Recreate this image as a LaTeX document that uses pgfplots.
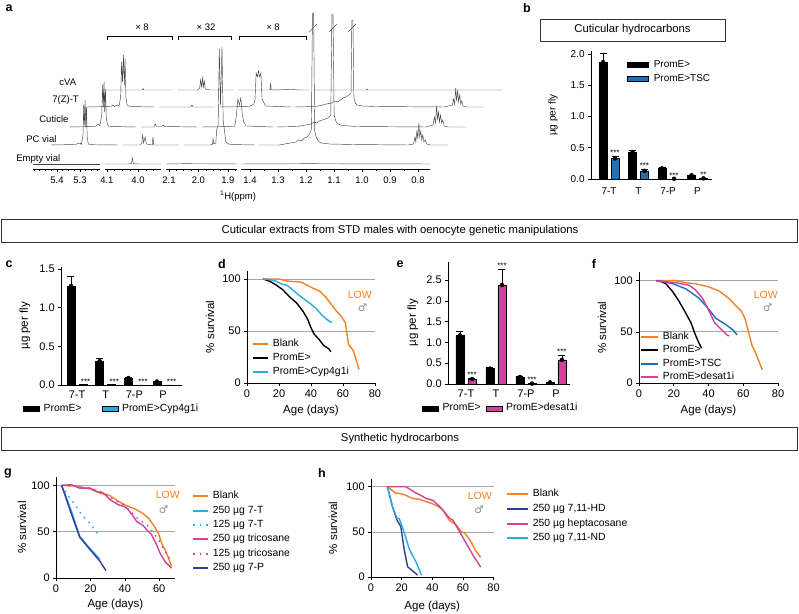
\documentclass[border=0pt]{standalone}
\usepackage{fontspec}
\setmainfont{Liberation Sans}
\newfontfamily\dejavu{DejaVu Sans}
\usepackage{pgfplots}
\usepackage{pgfplotstable}
\pgfplotsset{compat=1.18}
\definecolor{cOr}{RGB}{242,130,34}
\definecolor{cCy}{RGB}{41,171,226}
\definecolor{cBl}{RGB}{30,112,184}
\definecolor{cPk}{RGB}{206,68,154}
\definecolor{cDb}{RGB}{48,64,152}
\definecolor{cGr}{RGB}{165,165,165}
\definecolor{cSp}{RGB}{70,70,70}
\newcommand\fA{\fontsize{9.5}{11}\selectfont}
\newcommand\fT{\fontsize{11}{12}\selectfont}
\newcommand\fTb{\fontsize{10}{11}\selectfont}
\newcommand\fX{\fontsize{11.5}{13}\selectfont}
\newcommand\fL{\fontsize{10.4}{12}\selectfont}
\newcommand\fLb{\fontsize{10}{12}\selectfont}
\newcommand\fS{\fontsize{8}{9}\selectfont}
\newcommand\fP{\fontsize{12.5}{14}\selectfont\bfseries}
\newcommand\fH{\fontsize{11.3}{13}\selectfont}
\newcommand\fLow{\fontsize{10.5}{12}\selectfont}
\newcommand{\spec}[4]{\addplot[spec] table[row sep=\\, x expr=\thisrow{p}-#2/#1, y expr=\thisrow{h}+#3] {p h\\ #4};}
\tikzset{star/.style={font=\fS, inner sep=0.5pt, anchor=south}}
% bar data: x = category, y = mean, e = error
\pgfplotstableread[row sep=\\]{x y e\\ 0 1.87 0.14\\ 1 0.43 0.03\\ 2 0.17 0.02\\ 3 0.06 0.006\\}\bA
\pgfplotstableread[row sep=\\]{x y e\\ 0 0.33 0.04\\ 1 0.13 0.03\\ 2 0.003 0\\ 3 0.01 0.005\\}\bB
\pgfplotstableread[row sep=\\]{x y e\\ 0 1.28 0.12\\ 1 0.31 0.04\\ 2 0.09 0.01\\ 3 0.045 0.006\\}\cA
\pgfplotstableread[row sep=\\]{x y e\\ 0 0.005 0\\ 1 0.005 0\\ 2 0.003 0\\ 3 0.003 0\\}\cB
\pgfplotstableread[row sep=\\]{x y e\\ 0 1.17 0.10\\ 1 0.37 0.02\\ 2 0.17 0.02\\ 3 0.04 0.005\\}\eA
\pgfplotstableread[row sep=\\]{x y e\\ 0 0.12 0.01\\ 1 2.38 0.37\\ 2 0.01 0.005\\ 3 0.58 0.12\\}\eB
\pgfplotsset{
 base/.style={scale only axis, anchor=south west, clip=false,
   axis lines=left, axis line style={-, line width=0.6pt},
   tick align=outside, major tick length=3pt,
   tick style={black, line width=0.6pt},
   tick label style={font=\fT},
   label style={font=\fX},
   /pgf/number format/assume math mode=true,
   legend cell align=left,
   legend style={draw=none, fill=none, inner sep=0pt, font=\fL,
      nodes={inner sep=0pt, text height=7.5pt, text depth=2.5pt}},
 },
 bars/.style={base, ymin=0,
   xtick={0,1,2,3}, xticklabels={7-T,T,7-P,P}, xtick style={draw=none},
   yticklabel style={/pgf/number format/.cd, fixed, fixed zerofill, precision=1},
   ylabel={µg per fly}, ylabel style={anchor=center},
 },
 blegB/.style={legend image code/.code={\draw[##1, line width=0.5pt] (0pt,-2.5pt) rectangle (21pt,2.5pt); \path (26pt,0pt);}},
 blegC/.style={legend image code/.code={\draw[##1, line width=0.5pt] (0pt,-2.5pt) rectangle (16pt,2.5pt); \path (20pt,0pt);}},
 barL/.style={ybar, bar width=8pt, bar shift=-6pt, draw=black, line width=0.5pt},
 barR/.style={ybar, bar width=8pt, bar shift=6pt, draw=black, line width=0.5pt},
 ebar/.style={only marks, mark=none, forget plot,
   /pgfplots/error bars/y dir=plus, /pgfplots/error bars/y explicit,
   /pgfplots/error bars/error bar style={black, line width=0.6pt, solid},
   /pgfplots/error bars/error mark options={black, rotate=90, mark size=3.5pt, line width=0.6pt}},
 surv/.style={base, xmin=0, ymin=0, ytick={0,50,100},
   ymajorgrids, major grid style={cGr, line width=0.7pt},
   xlabel={Age (days)}, ylabel={\% survival}, ylabel style={anchor=center}, xlabel style={anchor=center},
   every axis plot/.append style={line width=1.4pt},
 },
 lg/.style 2 args={legend image code/.code={\draw[#1, line width=1.9pt] (0pt,0pt) -- (#2,0pt); \path ([xshift=4pt]#2,0pt);}},
 spec/.style={cSp, line width=0.45pt},
 nmr/.style={scale only axis, anchor=south west, clip=false, height=200pt, ymin=0, ymax=200,
   x dir=reverse, axis x line=bottom, axis y line=none, ytick=\empty,
   axis line style={-, line width=0.6pt},
   tick align=outside, major tick length=3pt, minor tick length=2pt,
   tick style={black, line width=0.5pt},
   xticklabel style={font=\fA, yshift=-2pt, /pgf/number format/.cd, fixed, fixed zerofill, precision=1},
   /pgf/number format/assume math mode=true},
}
\begin{document}
\fA
\begin{tikzpicture}
\useasboundingbox (0pt,0pt) rectangle (799pt,613pt);
% ================= panel a =================
\node[font=\fP] at (9pt,605pt) {a};
\begin{axis}[nmr, at={(33pt,444pt)}, width=67pt, xmin=5.213, xmax=5.504, xtick={5.3,5.4},
  minor xtick={5.225,5.25,5.275,5.325,5.35,5.375,5.425,5.45,5.475,5.5}]
\spec{230}{0}{5}{5.504 0\\ 5.213 0\\}
\spec{230}{18}{24}{5.504 0\\ 5.40 0.5\\ 5.378 2\\ 5.372 0.5\\ 5.365 10\\ 5.362 40\\ 5.359 20\\ 5.356 45\\ 5.353 18\\ 5.350 38\\ 5.347 8\\ 5.342 1\\ 5.33 0.3\\ 5.213 0\\}
\spec{230}{36}{42}{5.504 0\\ 5.39 0.5\\ 5.376 3\\ 5.370 1\\ 5.362 12\\ 5.358 42\\ 5.355 20\\ 5.352 45\\ 5.349 15\\ 5.346 38\\ 5.342 8\\ 5.336 2\\ 5.33 0.5\\ 5.213 0\\}
\spec{230}{54}{62}{5.504 0\\ 5.40 0.5\\ 5.391 2\\ 5.385 0.5\\ 5.372 2\\ 5.365 1\\ 5.358 10\\ 5.354 45\\ 5.350 25\\ 5.346 52\\ 5.342 22\\ 5.339 48\\ 5.335 9\\ 5.33 2\\ 5.32 0.5\\ 5.213 0\\}
\spec{230}{72}{79}{5.504 0\\ 5.342 0\\ 5.339 1.5\\ 5.336 0\\ 5.213 0\\}
\end{axis}
\begin{axis}[nmr, at={(105pt,444pt)}, width=56pt, xmin=3.926, xmax=4.106, xtick={4.0,4.1},
  minor xtick={3.95,3.975,4.025,4.05,4.075}]
\spec{310}{0}{5}{4.106 0\\ 4.03 0\\ 4.021 0.5\\ 4.018 6\\ 4.015 0.5\\ 4.0 0\\ 3.926 0\\}
\spec{310}{18}{24}{4.106 0\\ 4.05 0\\ 4.046 2\\ 4.043 10\\ 4.040 2\\ 4.035 8\\ 4.031 1\\ 4.012 0\\ 4.010 8\\ 4.007 0\\ 3.926 0\\}
\spec{310}{36}{42}{4.106 0\\ 4.065 0\\ 4.061 3\\ 4.057 0.5\\ 4.04 0.5\\ 4.035 2\\ 4.03 0.5\\ 3.926 0\\}
\spec{310}{54}{62}{4.106 0\\ 4.005 0\\ 4.001 2\\ 3.997 0\\ 3.926 0\\}
\spec{310}{72}{79}{4.106 0\\ 4.04 0\\ 4.034 2\\ 4.031 10\\ 4.028 3\\ 4.025 12\\ 4.022 3\\ 4.019 9\\ 4.016 1\\ 4.00 0\\ 3.926 0\\}
\end{axis}
\begin{axis}[nmr, at={(166pt,444pt)}, width=71pt, xmin=1.869, xmax=2.110, xtick={1.9,2.0,2.1},
  minor xtick={1.875,1.925,1.95,1.975,2.025,2.05,2.075}]
\spec{295}{0}{5}{2.110 0\\ 2.05 0.3\\ 1.95 0.2\\ 1.869 0\\}
\spec{295}{18}{24}{2.110 0\\ 2.02 0\\ 2.013 1\\ 2.011 7\\ 2.009 1\\ 2.002 2\\ 1.999 15\\ 1.994 20\\ 1.990 96\\ 1.986 40\\ 1.981 98\\ 1.977 25\\ 1.972 13\\ 1.968 3\\ 1.955 0.5\\ 1.869 0\\}
\spec{295}{36}{42}{2.110 0\\ 2.00 0.5\\ 1.998 2\\ 1.993 12\\ 1.988 28\\ 1.983 22\\ 1.978 29\\ 1.973 12\\ 1.967 4\\ 1.96 1\\ 1.869 0\\}
\spec{295}{54}{62}{2.110 0\\ 2.01 0.5\\ 1.995 3\\ 1.991 7\\ 1.987 34\\ 1.983 30\\ 1.979 36\\ 1.975 30\\ 1.971 34\\ 1.967 8\\ 1.962 5\\ 1.955 1\\ 1.869 0\\}
\spec{295}{72}{79}{2.110 0\\ 2.001 0\\ 1.999 7\\ 1.997 0\\ 1.93 0.5\\ 1.90 0\\ 1.869 0\\}
\end{axis}
\begin{axis}[nmr, at={(241pt,444pt)}, width=189pt, xmin=0.757, xmax=1.432,
  xtick={0.8,0.9,1.0,1.1,1.2,1.3,1.4}, minor xtick={0.85,0.95,1.05,1.15,1.25,1.35}]
\spec{280}{0}{5}{1.432 0\\ 1.2 0.3\\ 0.757 0\\}
\spec{280}{18}{24}{1.432 0\\ 1.36 0\\ 1.33 1.5\\ 1.30 3\\ 1.29 5\\ 1.28 4\\ 1.27 7\\ 1.26 8\\ 1.25 12\\ 1.245 16\\ 1.241 132\\ 1.237 132\\ 1.233 14\\ 1.228 8\\ 1.22 4\\ 1.21 2\\ 1.18 1\\ 1.10 0.5\\ 0.90 0\\ 0.88 1\\ 0.875 8\\ 0.872 3\\ 0.868 15\\ 0.865 6\\ 0.861 22\\ 0.858 8\\ 0.854 14\\ 0.851 5\\ 0.847 10\\ 0.843 3\\ 0.838 5\\ 0.833 1\\ 0.82 0\\ 0.757 0\\}
\spec{280}{18}{24}{1.254 113\\ 1.225 121\\}
\spec{280}{36}{42}{1.432 0\\ 1.36 0.5\\ 1.33 2\\ 1.31 3\\ 1.30 5\\ 1.29 4\\ 1.28 6\\ 1.27 7\\ 1.26 8\\ 1.25 9\\ 1.240 12\\ 1.236 113\\ 1.232 113\\ 1.228 12\\ 1.222 6\\ 1.215 3\\ 1.20 1.5\\ 1.15 0.5\\ 0.90 0\\ 0.875 2\\ 0.870 10\\ 0.866 4\\ 0.862 21\\ 0.859 8\\ 0.855 15\\ 0.852 5\\ 0.848 12\\ 0.844 4\\ 0.840 7\\ 0.835 1\\ 0.82 0\\ 0.757 0\\}
\spec{280}{36}{42}{1.246 95\\ 1.218 103\\}
\spec{280}{54}{62}{1.432 0\\ 1.36 0.5\\ 1.34 1.5\\ 1.32 3\\ 1.30 4\\ 1.29 6\\ 1.28 5\\ 1.27 7\\ 1.26 9\\ 1.25 10\\ 1.24 12\\ 1.232 14\\ 1.229 87\\ 1.225 87\\ 1.222 10\\ 1.217 4\\ 1.21 2\\ 1.19 1\\ 1.15 0.5\\ 0.90 0\\ 0.870 2\\ 0.866 8\\ 0.862 3\\ 0.858 19\\ 0.855 6\\ 0.851 17\\ 0.848 5\\ 0.844 12\\ 0.840 3\\ 0.836 6\\ 0.832 1\\ 0.82 0\\ 0.757 0\\}
\spec{280}{54}{62}{1.243 75\\ 1.214 83\\}
\spec{280}{72}{79}{1.432 0\\ 1.242 0\\ 1.239 1\\ 1.236 0\\ 0.757 0\\}
\end{axis}
\node at (238pt,417pt) {\textsuperscript{1}H(ppm)};
\node[anchor=west] at (56pt,531pt) {cVA};
\node[anchor=west] at (49pt,513pt) {7(Z)-T};
\node[anchor=west] at (36pt,494pt) {Cuticle};
\node[anchor=west] at (23pt,474pt) {PC vial};
\node[anchor=west] at (13pt,454pt) {Empty vial};
\draw[line width=0.6pt] (107pt,573pt) -- (107pt,576.5pt) -- (172pt,576.5pt) -- (172pt,573pt);
\draw[line width=0.6pt] (178pt,573pt) -- (178pt,576.5pt) -- (231pt,576.5pt) -- (231pt,573pt);
\draw[line width=0.6pt] (239pt,573pt) -- (239pt,576.5pt) -- (306pt,576.5pt) -- (306pt,573pt);
\node at (142pt,586pt) {× 8};
\node at (206pt,586pt) {× 32};
\node at (273pt,586pt) {× 8};
% ================= panel b =================
\node[font=\fP] at (527pt,605pt) {b};
\draw[line width=0.7pt, black!80] (540pt,572pt) rectangle (725pt,594pt);
\node[font=\fH] at (632.5pt,583pt) {Cuticular hydrocarbons};
\begin{axis}[bars, at={(591pt,434pt)}, width=121pt, height=127.5pt, xmin=-0.61, xmax=3.49, ymax=2.04,
  tick label style={font=\fTb}, label style={font=\fTb},
  ytick={0,0.5,1,1.5,2}, ylabel style={at={(axis description cs:-0.314,0.5)}},
  xticklabel style={yshift=-2pt},
  legend style={font=\fLb, at={(axis description cs:0.298,0.933)}, anchor=north west, row sep=4pt}]
\addplot[barL, fill=black, blegB] table[x=x, y=y] {\bA};
\addplot[barR, fill=cBl, blegB] table[x=x, y=y] {\bB};
\addplot[ebar] table[x expr=\thisrow{x}-0.2034, y=y, y error=e] {\bA};
\addplot[ebar] table[x expr=\thisrow{x}+0.2034, y=y, y error=e] {\bB};
\legend{PromE>, PromE>TSC}
\node[star] at (axis cs:0.2,0.37) {***};
\node[star] at (axis cs:1.2,0.16) {***};
\node[star] at (axis cs:2.2,0.0) {***};
\node[star] at (axis cs:3.2,0.015) {**};
\end{axis}
% ================= header 2 =================
\draw[line width=0.7pt, black!80] (1pt,371pt) rectangle (797pt,394pt);
\node[font=\fH] at (400pt,382.5pt) {Cuticular extracts from STD males with oenocyte genetic manipulations};
% ================= panel c =================
\node[font=\fP] at (9pt,349pt) {c};
\begin{axis}[bars, at={(61pt,228pt)}, width=121pt, height=118.3pt, xmin=-0.558, xmax=3.662, ymax=1.53,
  ytick={0,0.5,1,1.5}, ylabel style={at={(axis description cs:-0.298,0.5)}},
  legend columns=2, legend style={at={(axis description cs:-0.314,-0.2)}, anchor=west,
  /tikz/every even column/.append style={column sep=20pt}}]
\addplot[barL, fill=black, blegC] table[x=x, y=y] {\cA};
\addplot[barR, fill=cCy, blegC] table[x=x, y=y] {\cB};
\addplot[ebar] table[x expr=\thisrow{x}-0.2093, y=y, y error=e] {\cA};
\legend{PromE>, PromE>Cyp4g1i}
\node[star] at (axis cs:0.3,0.0) {***};
\node[star] at (axis cs:1.3,0.0) {***};
\node[star] at (axis cs:2.3,0.0) {***};
\node[star] at (axis cs:3.3,0.0) {***};
\end{axis}
% ================= panel d =================
\node[font=\fP] at (222pt,349pt) {d};
\begin{axis}[surv, at={(247pt,230pt)}, width=128pt, height=112.3pt, xmax=80, ymax=108,
  xtick={0,20,40,60,80},
  ylabel style={at={(axis description cs:-0.289,0.5)}},
  xlabel style={at={(axis description cs:0.5,-0.245)}},
  legend style={at={(axis description cs:0.039,0.392)}, anchor=north west, row sep=4pt}]
\addplot[cOr, lg={cOr}{15pt}] coordinates {(10,100) (20,100) (25,98) (30,97.5) (34,97) (37,94.5) (41.5,91) (45.8,88) (49,83) (52,77) (56,69) (59,64) (61.5,58) (62.5,47) (63.5,37) (66.5,31) (68.5,21) (70,13)};
\addlegendentry{Blank}
\addplot[black, lg={black}{15pt}] coordinates {(10,100) (14,98) (18,94.5) (22.5,89.5) (26.5,83) (31,77) (35,69) (38,61) (40,53) (42,47) (45,42) (48,36) (51,33) (52.5,30)};
\addlegendentry{PromE>}
\addplot[cCy, lg={cCy}{15pt}] coordinates {(10,100) (14,99.5) (18,98) (22,95) (25,94) (29,89) (32,85) (35,81.5) (39,77) (43,72) (47,65) (50,61) (53,58)};
\addlegendentry{PromE>Cyp4g1i}
\node[text=cOr, font=\fLow] at (axis cs:70.5,85) {LOW};
\end{axis}
\node[text=black!45, font=\dejavu\fontsize{10.5}{12}\selectfont] at (362.5pt,305pt) {♂};
% ================= panel e =================
\node[font=\fP] at (400pt,349pt) {e};
\begin{axis}[bars, at={(448pt,229pt)}, width=122pt, height=122.3pt, xmin=-0.6, xmax=3.47, ymax=2.94,
  ytick={0,0.5,1,1.5,2,2.5}, ylabel style={at={(axis description cs:-0.287,0.5)}},
  legend columns=2, legend style={at={(axis description cs:-0.213,-0.2)}, anchor=west,
  /tikz/every even column/.append style={column sep=5pt}}]
\addplot[barL, fill=black, blegC] table[x=x, y=y] {\eA};
\addplot[barR, fill=cPk, blegC] table[x=x, y=y] {\eB};
\addplot[ebar] table[x expr=\thisrow{x}-0.2, y=y, y error=e] {\eA};
\addplot[ebar] table[x expr=\thisrow{x}+0.2, y=y, y error=e] {\eB};
\legend{PromE>, PromE>desat1i}
\node[star] at (axis cs:0.2,0.13) {***};
\node[star] at (axis cs:1.2,2.75) {***};
\node[star] at (axis cs:2.2,0.01) {***};
\node[star] at (axis cs:3.2,0.70) {***};
\end{axis}
% ================= panel f =================
\node[font=\fP] at (594pt,349pt) {f};
\begin{axis}[surv, at={(639pt,230pt)}, width=139pt, height=110.5pt, xmax=80, ymax=108,
  xtick={0,20,40,60,80},
  ylabel style={at={(axis description cs:-0.266,0.5)}},
  xlabel style={at={(axis description cs:0.5,-0.245)}},
  legend style={at={(axis description cs:0.007,0.462)}, anchor=north west, row sep=3.3pt}]
\addplot[cOr, lg={cOr}{17pt}] coordinates {(10,100) (21,100) (27,98) (32.5,97) (40,94) (46,90) (51.5,83) (55.5,76) (59,70) (61,63) (63,50) (65,37) (67,30) (69,21) (71,13)};
\addlegendentry{Blank}
\addplot[black, lg={black}{17pt}] coordinates {(10,100) (13,99) (15.5,97) (19.5,89) (23,80) (27,68) (30,58.6) (32,49) (34,41) (36,34)};
\addlegendentry{PromE>}
\addplot[cBl, lg={cBl}{17pt}] coordinates {(10,100) (14,99) (19.5,97) (27,92) (34.5,83) (40.5,71.5) (44,63.5) (50,57) (54,52) (56.5,47)};
\addlegendentry{PromE>TSC}
\addplot[cPk, lg={cPk}{17pt}] coordinates {(10,100) (15,99) (21,98) (29,95.5) (32.5,91) (36.5,83) (41,68) (43.5,59) (47,53) (51,46.5) (52,46)};
\addlegendentry{PromE>desat1i}
\node[text=cOr, font=\fLow] at (axis cs:73,86) {LOW};
\end{axis}
\node[text=black!45, font=\dejavu\fontsize{10.5}{12}\selectfont] at (767.5pt,305pt) {♂};
% ================= header 3 =================
\draw[line width=0.7pt, black!80] (1pt,163pt) rectangle (797pt,186pt);
\node[font=\fH] at (400pt,174.5pt) {Synthetic hydrocarbons};
% ================= panel g =================
\node[font=\fP] at (8pt,140pt) {g};
\begin{axis}[surv, at={(56pt,35pt)}, width=118.7pt, height=101pt, xmax=69, ymax=109,
  xtick={0,20,40,60},
  ylabel style={at={(axis description cs:-0.286,0.5)}},
  xlabel style={at={(axis description cs:0.5,-0.267)}},
  legend style={at={(axis description cs:1.146,0.861)}, anchor=north west, row sep=4.4pt}]
\addplot[cOr, lg={cOr}{15pt}] coordinates {(3.3,100) (12,99) (19.8,96) (25.6,91.7) (31.4,88.8) (36.3,82.7) (40,79) (46.9,73.7) (50.8,69.3) (53.7,64.6) (56.6,57.4) (59.5,48.4) (61.4,37.6) (64.3,26.8) (67.2,12.4)};
\addlegendentry{Blank}
\addplot[cCy, lg={cCy}{15pt}] coordinates {(3.3,100) (9,72) (13.8,45) (18.7,34) (25.6,20)};
\addlegendentry{250 µg 7-T}
\addplot[cCy, dash pattern=on 1.5pt off 5pt, lg={cCy, dash pattern=on 1.5pt off 5pt}{15pt}] coordinates {(3.3,100) (7.3,88) (11.2,79) (15,68) (19.8,59) (24.6,46.6)};
\addlegendentry{125 µg 7-T}
\addplot[cPk, lg={cPk}{15pt}] coordinates {(3.3,100) (9,100.7) (13.8,97) (19.8,97) (23.6,93.5) (27.5,91.7) (31.4,84.5) (36.3,79) (40,77) (42,73.7) (45,66.5) (46.9,61) (50.8,56.4) (52.7,52) (55.6,46.6) (58.5,35.8) (60.5,26.8) (63.3,17.8) (67.2,10.6)};
\addlegendentry{250 µg tricosane}
\addplot[cPk, dash pattern=on 1.5pt off 5pt, lg={cPk, dash pattern=on 1.5pt off 5pt}{15pt}] coordinates {(3.3,100) (10,99) (20,97) (28,92) (33,85) (40,78) (47,65) (53,57) (57,48) (60,40) (63,30) (66,21.5)};
\addlegendentry{125 µg tricosane}
\addplot[cDb, lg={cDb}{15pt}] coordinates {(3.3,100) (8.4,72) (13.8,44) (19.8,30.6) (25.6,18) (29,8)};
\addlegendentry{250 µg 7-P}
\node[text=cOr, font=\fLow] at (axis cs:65,90) {LOW};
\end{axis}
\node[text=black!45, font=\dejavu\fontsize{10.5}{12}\selectfont] at (163.5pt,103pt) {♂};
% ================= panel h =================
\node[font=\fP] at (322pt,140pt) {h};
\begin{axis}[surv, at={(371pt,36pt)}, width=122.5pt, height=98.4pt, xmax=80, ymax=109,
  xtick={0,20,40,60,80},
  ylabel style={at={(axis description cs:-0.31,0.5)}},
  xlabel style={at={(axis description cs:0.5,-0.305)}},
  legend style={at={(axis description cs:1.102,0.894)}, anchor=north west, row sep=4.7pt}]
\addplot[cOr, lg={cOr}{21pt}] coordinates {(10.7,100) (13,97) (16,93) (18.4,92.6) (22,91) (27.2,87) (31.6,86) (35,84) (40.4,81) (44,78) (47,74) (51,63) (55.7,57.6) (59,50) (61,49) (63,45) (66,37) (68,30) (71.6,22)};
\addlegendentry{Blank}
\addplot[cDb, lg={cDb}{21pt}] coordinates {(10.7,100) (14,78) (17,63) (19.5,55.7) (21.7,30) (23.9,11.4) (30.5,2)};
\addlegendentry{250 µg 7,11-HD}
\addplot[cPk, lg={cPk}{21pt}] coordinates {(10.7,100) (22.8,100) (26,96.5) (29.4,93) (33,90) (36,87) (40.4,85) (44.7,78.3) (48,72) (51.3,65) (53.5,63) (57.9,50) (62.3,37) (66.7,24) (71.6,11)};
\addlegendentry{250 µg heptacosane}
\addplot[cCy, lg={cCy}{21pt}] coordinates {(10.7,100) (14,78) (17,65) (18.4,64.7) (20.6,55) (25,31) (29.4,16.6) (33,2)};
\addlegendentry{250 µg 7,11-ND}
\node[text=cOr, font=\fLow] at (axis cs:71,90) {LOW};
\end{axis}
\node[text=black!45, font=\dejavu\fontsize{10.5}{12}\selectfont] at (479pt,103pt) {♂};
\end{tikzpicture}
\end{document}
